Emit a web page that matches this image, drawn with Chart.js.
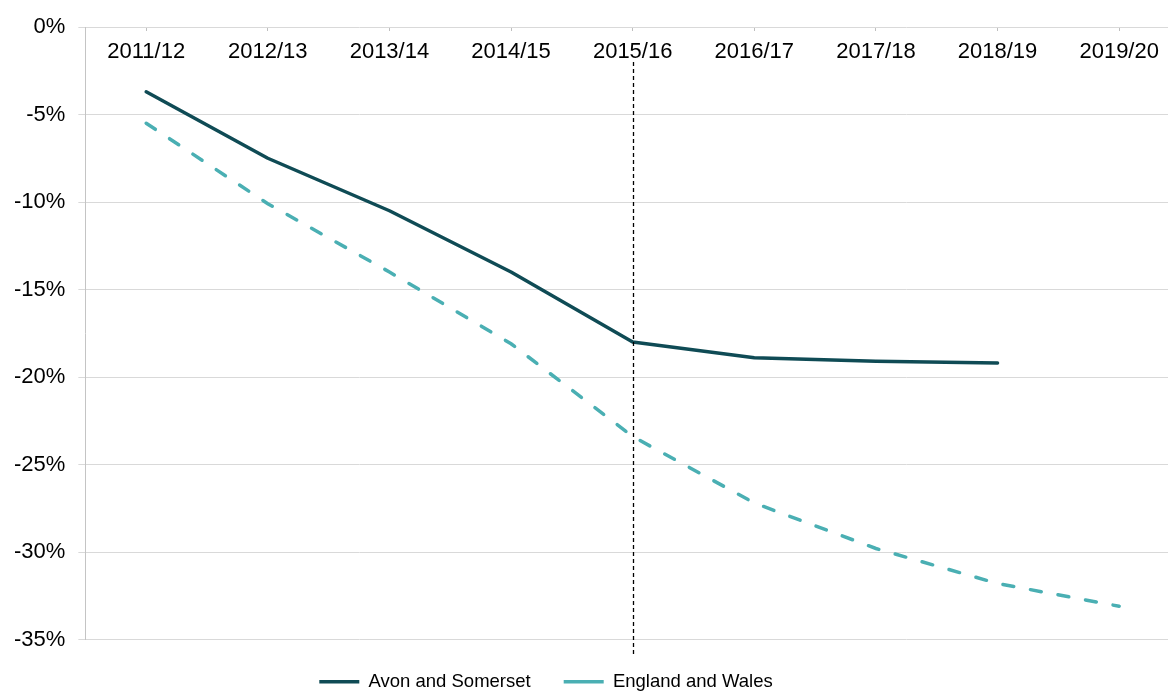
<!DOCTYPE html>
<html>
<head>
<meta charset="utf-8">
<script src="https://cdn.jsdelivr.net/npm/chart.js@4/dist/chart.umd.min.js"></script>
<style>
  html, body { margin: 0; padding: 0; background: #fff; overflow: hidden; }
  canvas { display: block; }
</style>
</head>
<body>
<canvas id="chart" width="1180" height="701" style="width:1180px;height:701px"></canvas>
<script>
// Данные графика
const years = ["2011/12", "2012/13", "2013/14", "2014/15", "2015/16", "2016/17", "2017/18", "2018/19", "2019/20"];
const avonSomerset = [-3.7, -7.5, -10.5, -14.0, -18.0, -18.9, -19.1, -19.2, null];
const englandWales = [-5.5, -10.1, -14.0, -18.1, -23.4, -27.2, -29.8, -31.8, -33.1];
const yTicks = [0, -5, -10, -15, -20, -25, -30, -35];
const dividerYear = "2015/16";

const FONT = "'Liberation Sans', Arial, sans-serif";

// Вертикальная пунктирная линия и сдвиг легенды
const extras = {
  id: "extras",
  afterLayout(chart) {
    chart.legend.left = 0;
    chart.legend.right = 1092;
  },
  afterDatasetsDraw(chart) {
    const { ctx, chartArea, scales } = chart;
    const x = Math.round(scales.x.getPixelForValue(years.indexOf(dividerYear))) + 0.5;
    ctx.save();
    ctx.strokeStyle = "#000";
    ctx.lineWidth = 1.3;
    ctx.setLineDash([4, 3]);
    ctx.beginPath();
    ctx.moveTo(x, chartArea.top + 35);
    ctx.lineTo(x, chartArea.bottom + 16);
    ctx.stroke();
    ctx.restore();
  }
};

const ctx = document.getElementById("chart").getContext("2d");
new Chart(ctx, {
  type: "line",
  data: {
    labels: years,
    datasets: [
      {
        label: "Avon and Somerset",
        data: avonSomerset,
        borderColor: "#0f4b55",
        backgroundColor: "#0f4b55",
        borderWidth: 3.5,
        borderCapStyle: "round",
        borderJoinStyle: "round",
        pointRadius: 0,
        pointStyle: "line",
        tension: 0,
        fill: false
      },
      {
        label: "England and Wales",
        data: englandWales,
        borderColor: "#4aafb3",
        backgroundColor: "#4aafb3",
        borderWidth: 3.5,
        borderDash: [11, 17],
        borderCapStyle: "round",
        pointRadius: 0,
        pointStyle: "line",
        tension: 0,
        fill: false
      }
    ]
  },
  options: {
    responsive: false,
    animation: false,
    layout: { padding: { top: 27, left: 1, right: 0, bottom: 0 } },
    plugins: {
      legend: {
        display: true,
        position: "bottom",
        labels: {
          usePointStyle: true,
          pointStyle: "line",
          pointStyleWidth: 40,
          padding: 33,
          color: "#000",
          font: { family: FONT, size: 18.5 }
        }
      },
      tooltip: { enabled: false }
    },
    scales: {
      x: {
        type: "category",
        position: { y: 0 },
        offset: true,
        afterFit: (scale) => { scale.height = 0; },
        grid: {
          offset: false,
          drawOnChartArea: false,
          drawTicks: true,
          tickLength: 4,
          color: "#bfbfbf"
        },
        border: { display: false },
        ticks: {
          padding: 8,
          maxRotation: 0,
          autoSkip: false,
          color: "#000",
          font: { family: FONT, size: 22 }
        }
      },
      y: {
        position: "left",
        min: -35,
        max: 0,
        afterBuildTicks: (scale) => { scale.ticks = yTicks.map((v) => ({ value: v })); },
        grid: {
          color: "#d9d9d9",
          lineWidth: 1,
          tickLength: 7
        },
        border: { display: true, color: "#c4c4c4", width: 1 },
        ticks: {
          padding: 13,
          color: "#000",
          font: { family: FONT, size: 22 },
          callback: (v) => v + "%"
        }
      }
    }
  },
  plugins: [extras]
});
</script>
</body>
</html>
